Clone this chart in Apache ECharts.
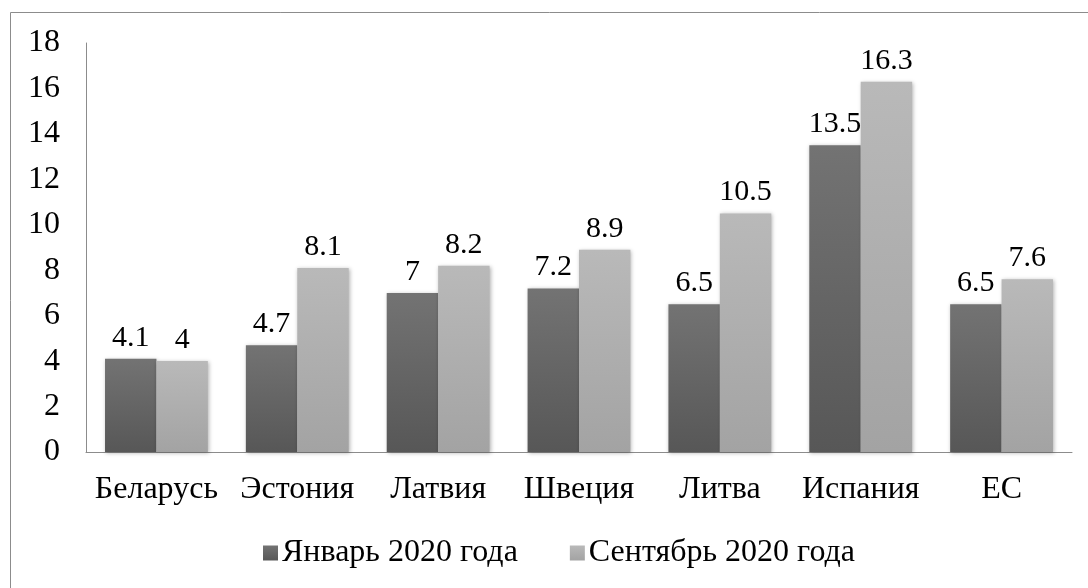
<!DOCTYPE html>
<html>
<head>
<meta charset="utf-8">
<script src="https://cdn.jsdelivr.net/npm/echarts@6/dist/echarts.min.js"></script>
<style>
  html, body { margin: 0; padding: 0; background: #fff; }
  #chart { width: 1088px; height: 588px; }
</style>
</head>
<body>
<div id="chart"></div>
<script>
// данные
var countries = ['Беларусь', 'Эстония', 'Латвия', 'Швеция', 'Литва', 'Испания', 'ЕС'];
var jan2020 = [4.1, 4.7, 7, 7.2, 6.5, 13.5, 6.5];
var sep2020 = [4, 8.1, 8.2, 8.9, 10.5, 16.3, 7.6];
var seriesNames = ['Январь 2020 года', 'Сентябрь 2020 года'];

var font = "'Liberation Serif', 'DejaVu Serif', serif";

function grad(top, bottom) {
  return new echarts.graphic.LinearGradient(0, 0, 0, 1, [
    { offset: 0, color: top },
    { offset: 1, color: bottom }
  ]);
}

var myChart = echarts.init(document.getElementById('chart'));
myChart.setOption({
  animation: false,
  graphic: [{
    type: 'rect',
    shape: { x: 10.5, y: 12.5, width: 1100, height: 600 },
    style: { fill: 'none', stroke: '#8c8c8c', lineWidth: 1 },
    silent: true
  }],
  legend: {
    data: seriesNames,
    bottom: 14,
    left: 258,
    itemWidth: 15,
    itemHeight: 15,
    itemGap: 52,
    icon: 'rect',
    textStyle: { fontFamily: font, fontSize: 32, color: '#000', padding: [0, 0, 0, -1] }
  },
  grid: { left: 86, right: 16, top: 43, bottom: 136 },
  xAxis: {
    type: 'category',
    data: countries,
    axisLine: { lineStyle: { color: '#8c8c8c', width: 1 } },
    axisTick: { show: false },
    axisLabel: { fontFamily: font, fontSize: 32, color: '#000', margin: 22, interval: 0 }
  },
  yAxis: {
    type: 'value',
    min: 0,
    max: 18,
    interval: 2,
    splitLine: { show: false },
    axisLine: { show: true, lineStyle: { color: '#8c8c8c', width: 1 } },
    axisTick: { show: false },
    axisLabel: { fontFamily: font, fontSize: 32, color: '#000', margin: 26 }
  },
  series: [
    {
      name: seriesNames[0],
      type: 'bar',
      data: jan2020,
      barGap: '0%',
      barCategoryGap: '27%',
      itemStyle: {
        color: grad('#737373', '#575757'),
        shadowColor: 'rgba(0,0,0,0.3)', shadowBlur: 4, shadowOffsetX: 1, shadowOffsetY: 1
      },
      label: { show: true, position: 'top', distance: 6, fontFamily: font, fontSize: 30, color: '#000' }
    },
    {
      name: seriesNames[1],
      type: 'bar',
      data: sep2020,
      itemStyle: {
        color: grad('#b9b9b9', '#a3a3a3'),
        shadowColor: 'rgba(0,0,0,0.3)', shadowBlur: 4, shadowOffsetX: 1, shadowOffsetY: 1
      },
      label: { show: true, position: 'top', distance: 6, fontFamily: font, fontSize: 30, color: '#000' }
    }
  ]
});
</script>
</body>
</html>
